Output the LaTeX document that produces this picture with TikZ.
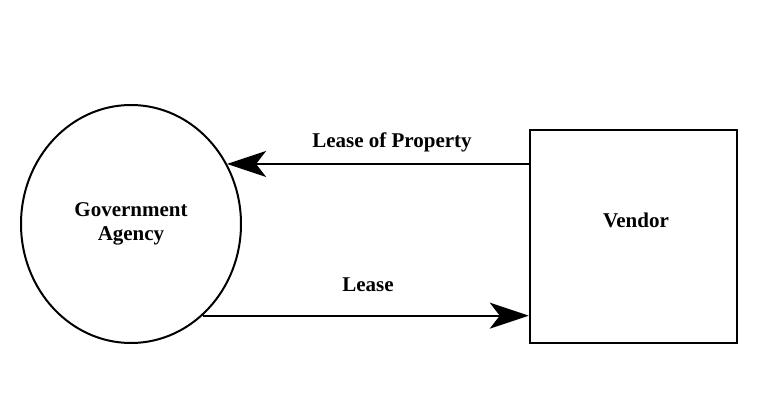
\documentclass[tikz,border=0pt]{standalone}
\usepackage{fontspec}
\setmainfont{Liberation Serif}
\usepackage{tikz}
\usetikzlibrary{arrows.meta, shapes.geometric, positioning}

\begin{document}
\begin{tikzpicture}[x=1pt, y=-1pt,
        txt/.style={font=\bfseries\fontsize{21}{23.5}\selectfont, inner sep=0pt},
        flow/.style={line width=2pt, -{Stealth[length=39pt, width=26pt, inset=10pt]}}]
                        \useasboundingbox (0, 0) rectangle (761, 393);

                        \node[draw, ellipse, line width=2pt, minimum width=220pt, minimum height=238pt, inner sep=0pt, txt, align=center] (agency) at (131, 224) {Government\\Agency};
                        \node[draw, rectangle, line width=2.5pt, minimum width=207pt, minimum height=213pt] (vendor) at (633.5, 236.5) {};
                        \node[txt, anchor=base] (vendorname) at (636, 228) {Vendor};
                        \node[txt, anchor=base] (property) at (392, 148) {Lease of Property};
                        \node[txt, anchor=base] (lease) at (368, 291) {Lease};

                        \draw[flow]
                        (vendor.west |- agency.32) -- (agency.32);

                        \draw[flow]
                        (agency.-52) -- (vendor.west |- agency.-52);
                    \end{tikzpicture}
\end{document}
